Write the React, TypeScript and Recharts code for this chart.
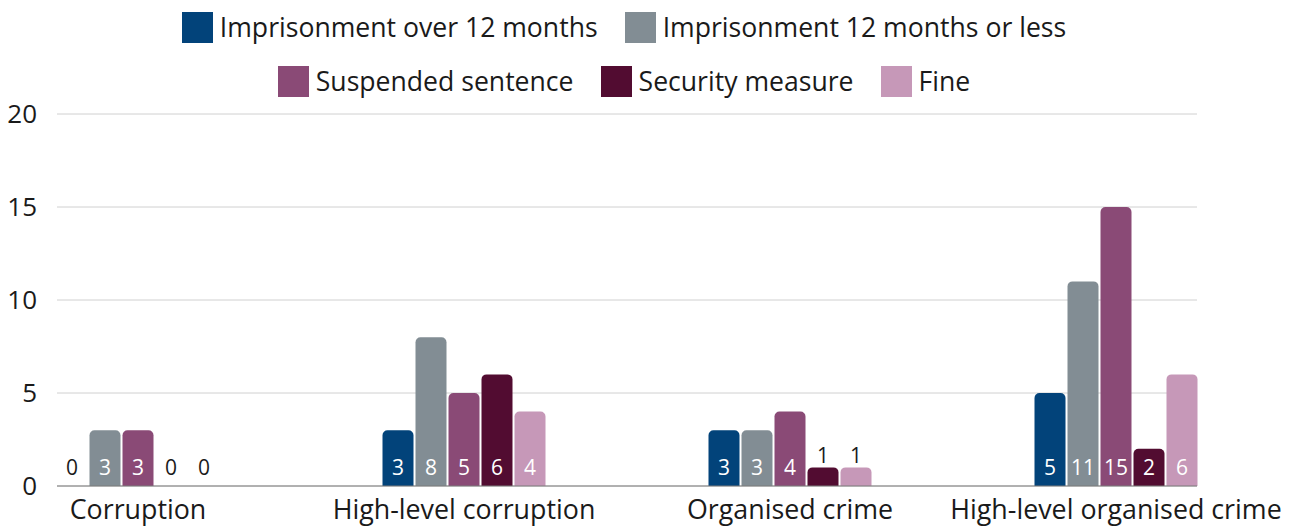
import React from 'react';
import { BarChart, Bar, XAxis, YAxis, CartesianGrid, Legend, LabelList } from 'recharts';

const categories = ['Corruption', 'High-level corruption', 'Organised crime', 'High-level organised crime'];
const over12 = [0, 3, 3, 5];
const under12 = [3, 8, 3, 11];
const suspended = [3, 5, 4, 15];
const security = [0, 6, 1, 2];
const fine = [0, 4, 1, 6];
const yTicks = [0, 5, 10, 15, 20];

const seriesDefs = [
  { key: 'over12', name: 'Imprisonment over 12 months', color: '#02437a', values: over12 },
  { key: 'under12', name: 'Imprisonment 12 months or less', color: '#828d94', values: under12 },
  { key: 'suspended', name: 'Suspended sentence', color: '#8a4a76', values: suspended },
  { key: 'security', name: 'Security measure', color: '#520c31', values: security },
  { key: 'fine', name: 'Fine', color: '#c698b8', values: fine },
];

const data = categories.map((c, i) => {
  const row: any = { category: c };
  seriesDefs.forEach((s) => {
    row[s.key] = s.values[i];
  });
  return row;
});

const FONT = '"Open Sans", "Noto Sans", sans-serif';

const legendRows = [seriesDefs.slice(0, 2), seriesDefs.slice(2)];

const renderLegend = () => (
  <div style={{ height: 108, width: 1248, fontFamily: FONT }}>
    {legendRows.map((row, ri) => (
      <div
        key={ri}
        style={{ height: 54, display: 'flex', justifyContent: 'center', alignItems: 'center' }}
      >
        {row.map((s, i) => (
          <div
            key={s.key}
            style={{ display: 'flex', alignItems: 'center', marginLeft: i === 0 ? 0 : 27 }}
          >
            <div style={{ width: 31, height: 31, background: s.color, marginRight: 7 }} />
            <span style={{ fontSize: 26.6, color: '#1a1a1a', lineHeight: '31px' }}>{s.name}</span>
          </div>
        ))}
      </div>
    ))}
  </div>
);

const renderBarLabel = (props: any) => {
  const { x, y, width, height, value } = props;
  const cx = Number(x) + Number(width) / 2;
  const v = Number(value);
  const bottom = Number(y) + Number(height);
  if (v >= 2) {
    return (
      <text x={cx} y={bottom - 11} fill="#ffffff" textAnchor="middle" fontSize={21} fontFamily={FONT}>
        {v}
      </text>
    );
  }
  if (v === 1) {
    return (
      <text x={cx} y={Number(y) - 4} fill="#1a1a1a" textAnchor="middle" fontSize={21} fontFamily={FONT}>
        {v}
      </text>
    );
  }
  return (
    <text x={cx} y={bottom - 11} fill="#1a1a1a" textAnchor="middle" fontSize={21} fontFamily={FONT}>
      {v}
    </text>
  );
};

export default function App() {
  return (
    <div style={{ position: 'absolute', left: 0, top: 0, width: 1294, height: 527, background: '#fff' }}>
      <BarChart
        width={1294}
        height={527}
        data={data}
        margin={{ top: 6, right: 97, bottom: 0, left: 0 }}
        barCategoryGap="25%"
        barGap={2}
      >
        <Legend
          verticalAlign="top"
          align="left"
          content={renderLegend}
          wrapperStyle={{ top: 0, left: 0, width: 1248 }}
        />
        <CartesianGrid vertical={false} stroke="#d0d0d0" />
        <XAxis
          dataKey="category"
          height={41}
          padding={{ left: -82, right: -82 }}
          tickLine={false}
          axisLine={{ stroke: '#7a7a7a' }}
          tickMargin={8}
          tick={{ fontSize: 26.8, fill: '#1a1a1a', fontFamily: FONT }}
          interval={0}
        />
        <YAxis
          width={57}
          domain={[0, 20]}
          ticks={yTicks}
          axisLine={false}
          tickLine={false}
          tickMargin={14}
          tick={{ fontSize: 26, fill: '#1a1a1a', fontFamily: FONT }}
        />
        {seriesDefs.map((s) => (
          <Bar
            key={s.key}
            dataKey={s.key}
            name={s.name}
            fill={s.color}
            radius={[5, 5, 0, 0]}
            minPointSize={0.01}
            isAnimationActive={false}
          >
            <LabelList dataKey={s.key} content={renderBarLabel} />
          </Bar>
        ))}
      </BarChart>
    </div>
  );
}
